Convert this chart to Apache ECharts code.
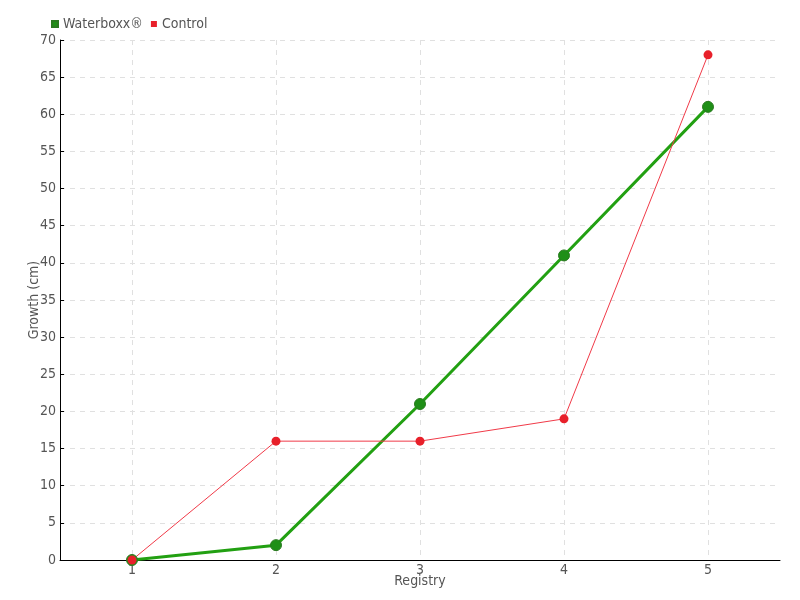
<!DOCTYPE html>
<html>
<head>
<meta charset="utf-8">
<script src="https://cdn.jsdelivr.net/npm/echarts@6/dist/echarts.min.js"></script>
<style>
  html, body { margin: 0; padding: 0; background: #fff; }
  #chart { width: 800px; height: 600px; }
</style>
</head>
<body>
<div id="chart"></div>
<script>
var registries = ['1', '2', '3', '4', '5'];
var waterboxx = [0, 2, 21, 41, 61];
var control = [0, 16, 16, 19, 68];

var font = '"Liberation Sans Narrow", "DejaVu Sans Condensed", sans-serif';
var chart = echarts.init(document.getElementById('chart'));
chart.setOption({
    animation: false,
    textStyle: { fontFamily: font },
    legend: {
        left: 46,
        top: 12,
        itemWidth: 6,
        itemHeight: 6,
        itemGap: 8,
        icon: 'rect',
        textStyle: { color: '#555', fontSize: 14, fontFamily: font },
        data: ['Waterboxx®', 'Control']
    },
    grid: { left: 60, right: 20, top: 40, bottom: 40 },
    xAxis: {
        type: 'category',
        data: registries,
        name: 'Registry',
        nameLocation: 'middle',
        nameGap: 14,
        nameMoveOverlap: false,
        nameTextStyle: { color: '#555', fontSize: 14 },
        axisLine: { lineStyle: { color: '#000' } },
        axisTick: { alignWithLabel: true, length: 5, lineStyle: { color: '#555' } },
        axisLabel: { color: '#555', fontSize: 14, margin: 3 },
        splitLine: { show: true, alignWithLabel: true, lineStyle: { color: '#e0e0e0', type: [5, 5] } }
    },
    yAxis: {
        type: 'value',
        min: 0,
        max: 70,
        interval: 5,
        name: 'Growth (cm)',
        nameLocation: 'middle',
        nameGap: 19,
        nameMoveOverlap: false,
        nameTextStyle: { color: '#555', fontSize: 14 },
        axisLine: { show: true, lineStyle: { color: '#000' } },
        axisTick: { show: true, inside: true, length: 4, lineStyle: { color: '#000' } },
        axisLabel: { color: '#555', fontSize: 14, margin: 4 },
        splitLine: { lineStyle: { color: '#e0e0e0', type: [5, 5] } }
    },
    series: [
        {
            name: 'Waterboxx®',
            type: 'line',
            data: waterboxx,
            color: '#22a012',
            symbol: 'circle',
            symbolSize: 11,
            lineStyle: { width: 3, color: '#22a012' },
            itemStyle: { color: '#1f8f17', borderColor: '#2a7a20', borderWidth: 1 }
        },
        {
            name: 'Control',
            type: 'line',
            data: control,
            color: '#e8202a',
            symbol: 'circle',
            symbolSize: 9,
            lineStyle: { width: 1, color: '#f03a48' },
            itemStyle: { color: '#e8202a' }
        }
    ]
});
</script>
</body>
</html>
